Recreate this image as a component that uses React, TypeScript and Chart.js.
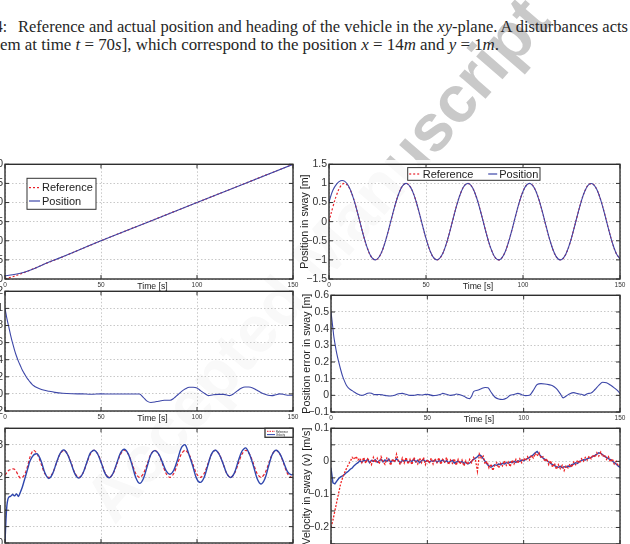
import React, { useEffect, useLayoutEffect, useRef } from 'react';
import { Chart, registerables } from 'chart.js';

Chart.register(...registerables);

const FONT = '"Liberation Sans", Arial, Helvetica, sans-serif';
const SERIF = '"Liberation Serif", "Times New Roman", serif';
const RED = '#e8202a';
const BLUE = '#3d47a8';
const BLUE2 = '#2f46ad';

// ---------------- Data ----------------
// Top-left: position in surge [m]
const tlTime = [0, 4, 8, 12, 16, 20, 30, 40, 50, 75, 100, 125, 150];
const tlRef = [0, 0.6, 1.3, 2.1, 2.9, 3.8, 5.8, 7.9, 10, 15, 20, 25, 30];
const tlPos = [0.85, 1.1, 1.5, 2.1, 2.9, 3.8, 5.8, 7.9, 10, 15, 20, 25, 30];

// Top-right: position in sway [m], sampled every 2 s
const trTime = [0, 2, 4, 6, 8, 10, 12, 14, 16, 18, 20, 22, 24, 26, 28, 30, 32, 34, 36, 38, 40, 42, 44, 46, 48, 50, 52, 54, 56, 58, 60, 62, 64, 66, 68, 70, 72, 74, 76, 78, 80, 82, 84, 86, 88, 90, 92, 94, 96, 98, 100, 102, 104, 106, 108, 110, 112, 114, 116, 118, 120, 122, 124, 126, 128, 130, 132, 134, 136, 138, 140, 142, 144, 146, 148, 150];
const trRef = [0, 0.385, 0.711, 0.927, 1.0, 0.919, 0.697, 0.367, -0.02, -0.403, -0.724, -0.934, -1.0, -0.911, -0.682, -0.348, 0.039, 0.421, 0.738, 0.941, 0.999, 0.903, 0.668, 0.33, -0.059, -0.439, -0.751, -0.947, -0.998, -0.894, -0.653, -0.311, 0.079, 0.457, 0.764, 0.953, 0.996, 0.885, 0.637, 0.292, -0.099, -0.474, -0.776, -0.959, -0.994, -0.876, -0.622, -0.273, 0.118, 0.491, 0.789, 0.965, 0.992, 0.866, 0.607, 0.254, -0.138, -0.509, -0.801, -0.97, -0.989, -0.856, -0.591, -0.235, 0.157, 0.526, 0.813, 0.974, 0.986, 0.846, 0.575, 0.216, -0.177, -0.542, -0.824, -0.979];
const trPos = [0.52, 0.82, 0.99, 1.07, 1.06, 0.94, 0.7, 0.367, -0.02, -0.403, -0.724, -0.934, -1.0, -0.911, -0.682, -0.348, 0.039, 0.421, 0.738, 0.941, 0.999, 0.903, 0.668, 0.33, -0.059, -0.439, -0.751, -0.947, -0.998, -0.894, -0.653, -0.311, 0.079, 0.457, 0.764, 0.953, 0.996, 0.885, 0.637, 0.292, -0.099, -0.474, -0.776, -0.959, -0.994, -0.876, -0.622, -0.273, 0.118, 0.491, 0.789, 0.965, 0.992, 0.866, 0.607, 0.254, -0.138, -0.509, -0.801, -0.97, -0.989, -0.856, -0.591, -0.235, 0.157, 0.526, 0.813, 0.974, 0.986, 0.846, 0.575, 0.216, -0.177, -0.542, -0.824, -0.979];

// Middle-left: position error in surge [m]
const mlTime = [0, 1, 2, 3, 4, 5, 6, 7, 8, 9, 10, 11, 12, 13, 14, 15, 16, 18, 20, 23, 26, 30, 35, 40, 45, 50, 55, 60, 65, 70, 72, 74, 76, 78, 80, 83, 86, 88, 90, 92, 94, 96, 98, 100, 102, 104, 106, 108, 111, 114, 117, 119, 121, 123, 125, 127, 129, 131, 133, 135, 137, 139, 141, 143, 145, 147, 150];
const mlErr = [1.0, 0.88, 0.78, 0.68, 0.59, 0.51, 0.44, 0.38, 0.33, 0.28, 0.24, 0.2, 0.17, 0.14, 0.115, 0.095, 0.08, 0.06, 0.045, 0.03, 0.018, 0.008, 0.002, 0.0, -0.004, 0.0, -0.002, -0.002, -0.002, -0.002, -0.04, -0.085, -0.1, -0.095, -0.085, -0.075, -0.075, -0.05, -0.01, 0.03, 0.06, 0.078, 0.078, 0.068, 0.035, 0.005, -0.02, -0.012, -0.005, -0.005, -0.02, 0.0, 0.035, 0.065, 0.08, 0.08, 0.07, 0.045, 0.02, 0.0, -0.015, -0.02, -0.01, 0.0, -0.005, -0.015, -0.015];

// Middle-right: position error in sway [m]
const mrTime = [0, 0.5, 1, 1.5, 2.2, 3, 4, 5, 6, 7, 8, 9, 10, 11, 12, 13, 14, 15, 16, 17, 18, 19, 20, 21, 22, 23, 25, 27, 29, 31, 33, 35, 37, 39, 41, 43, 45, 47, 49, 51, 53, 55, 57, 58, 60, 62, 64, 65, 67, 69, 71, 72, 73, 74, 76, 78, 80, 81.5, 83, 85, 87, 89, 91, 93, 95, 97, 99, 101, 103, 105, 107, 109, 111, 113, 115, 117, 119, 120.5, 122, 124, 126, 128, 130, 131.5, 133, 135, 137, 139, 141, 143, 145, 147, 149, 150];
const mrErr = [0.5, 0.45, 0.4, 0.35, 0.3, 0.25, 0.2, 0.155, 0.115, 0.085, 0.06, 0.045, 0.035, 0.028, 0.02, 0.013, 0.006, 0.002, 0.0, 0.002, 0.007, 0.012, 0.014, 0.012, 0.006, 0.004, 0.005, 0.002, -0.003, -0.004, 0.0, 0.01, 0.012, 0.006, 0.0, 0.0, 0.004, 0.002, 0.006, 0.004, -0.002, 0.0, 0.006, 0.012, 0.006, 0.0, 0.003, 0.008, 0.003, -0.005, -0.018, -0.02, -0.005, 0.022, 0.03, 0.04, 0.047, 0.045, 0.02, -0.01, -0.022, -0.025, -0.018, 0.0, 0.005, 0.012, 0.004, -0.002, 0.0, 0.03, 0.065, 0.07, 0.068, 0.064, 0.058, 0.04, 0.01, -0.015, -0.005, 0.01, 0.016, 0.01, 0.006, 0.0, 0.01, 0.014, 0.035, 0.06, 0.078, 0.075, 0.062, 0.045, 0.025, 0.01];

// Bottom-left: velocity in surge [m/s]
const blRefTime = [0, 1, 2, 3, 4, 5, 6, 7, 8, 9, 10, 11, 12, 13, 14.8, 16.8, 18.8, 20.7, 22.7, 24.7, 26.7, 28.6, 30.6, 32.6, 34.6, 36.5, 38.5, 40.5, 42.5, 44.4, 46.4, 48.4, 50.4, 52.3, 54.3, 56.3, 58.3, 60.2, 62.2, 64.2, 66.2, 68.1, 70.1, 72.1, 74.1, 76.0, 78.0, 80.0, 82.0, 83.9, 85.9, 87.9, 89.9, 91.8, 93.8, 95.8, 97.8, 99.7, 101.7, 103.7, 105.7, 107.6, 109.6, 111.6, 113.6, 115.5, 117.5, 119.5, 121.5, 123.4, 125.4, 127.4, 129.4, 131.3, 133.3, 135.3, 137.3, 139.2, 141.2, 143.2, 145.2, 147.1, 149.1, 150];
const blRef = [0.207, 0.215, 0.222, 0.224, 0.226, 0.225, 0.217, 0.205, 0.198, 0.2, 0.207, 0.22, 0.24, 0.262, 0.283, 0.271, 0.242, 0.212, 0.2, 0.212, 0.242, 0.271, 0.283, 0.271, 0.242, 0.212, 0.2, 0.212, 0.242, 0.271, 0.283, 0.271, 0.242, 0.212, 0.2, 0.212, 0.242, 0.271, 0.283, 0.271, 0.242, 0.212, 0.2, 0.212, 0.242, 0.271, 0.283, 0.271, 0.242, 0.212, 0.2, 0.212, 0.242, 0.271, 0.283, 0.271, 0.242, 0.212, 0.2, 0.212, 0.242, 0.271, 0.283, 0.271, 0.242, 0.212, 0.2, 0.212, 0.242, 0.271, 0.283, 0.271, 0.242, 0.212, 0.2, 0.212, 0.242, 0.271, 0.283, 0.271, 0.242, 0.212, 0.2, 0.203];
const blVelTime = [0, 0.5, 1, 1.5, 2, 3, 4, 5, 6, 7, 8, 9, 10, 11, 12, 13, 14.8, 16.8, 18.8, 20.7, 22.7, 24.7, 26.7, 28.6, 30.6, 32.6, 34.6, 36.5, 38.5, 40.5, 42.5, 44.4, 46.4, 48.4, 50.4, 52.3, 54.3, 56.3, 58.3, 60.2, 62.2, 64.2, 66.2, 68.1, 70.1, 72.1, 74.1, 76.0, 78.0, 80.0, 82.0, 83.9, 85.9, 87.9, 89.9, 91.8, 93.8, 95.8, 97.8, 99.7, 101.7, 103.7, 105.7, 107.6, 109.6, 111.6, 113.6, 115.5, 117.5, 119.5, 121.5, 123.4, 125.4, 127.4, 129.4, 131.3, 133.3, 135.3, 137.3, 139.2, 141.2, 143.2, 145.2, 147.1, 149.1, 150];
const blVel = [0.0, 0.07, 0.115, 0.133, 0.14, 0.143, 0.148, 0.144, 0.15, 0.142, 0.155, 0.17, 0.19, 0.21, 0.23, 0.25, 0.268, 0.272, 0.25, 0.215, 0.197, 0.21, 0.243, 0.272, 0.284, 0.27, 0.24, 0.21, 0.198, 0.212, 0.244, 0.274, 0.283, 0.27, 0.24, 0.21, 0.199, 0.213, 0.245, 0.275, 0.286, 0.272, 0.238, 0.2, 0.182, 0.197, 0.235, 0.27, 0.282, 0.272, 0.246, 0.22, 0.21, 0.222, 0.255, 0.29, 0.3, 0.27, 0.235, 0.198, 0.185, 0.2, 0.238, 0.272, 0.283, 0.27, 0.242, 0.212, 0.2, 0.214, 0.25, 0.28, 0.29, 0.27, 0.235, 0.197, 0.18, 0.195, 0.235, 0.27, 0.283, 0.272, 0.245, 0.218, 0.208, 0.21];

// Bottom-right: velocity in sway (v) [m/s], sampled every second
const brTime = Array.from({ length: 151 }, (_, i) => i);
const brVel = [-0.02, -0.065, -0.068, -0.06, -0.052, -0.047, -0.044, -0.04, -0.034, -0.03, -0.024, -0.02, -0.013, -0.008, -0.004, 0.002, -0.003, 0.004, 0.0, 0.006, -0.004, 0.003, 0.0, 0.005, -0.003, 0.002, 0.006, -0.002, 0.004, 0.0, 0.007, -0.003, 0.003, 0.0, 0.008, 0.002, -0.004, 0.003, 0.0, 0.005, -0.003, 0.002, 0.0, 0.006, -0.002, 0.003, -0.004, 0.002, 0.005, -0.001, 0.003, -0.003, 0.002, 0.0, 0.004, -0.003, 0.002, 0.0, 0.005, -0.002, 0.002, -0.004, 0.0, 0.003, -0.005, -0.002, 0.001, -0.004, 0.0, -0.006, -0.003, -0.008, -0.005, 0.0, 0.006, 0.01, 0.014, 0.02, 0.016, 0.008, 0.0, -0.008, -0.015, -0.018, -0.014, -0.01, -0.012, -0.008, -0.01, -0.006, -0.008, -0.004, -0.006, -0.002, -0.004, 0.0, -0.003, 0.002, 0.0, 0.004, 0.002, 0.006, 0.008, 0.012, 0.016, 0.02, 0.026, 0.03, 0.022, 0.015, 0.01, 0.006, 0.002, -0.002, -0.006, -0.01, -0.013, -0.016, -0.018, -0.015, -0.019, -0.016, -0.018, -0.014, -0.016, -0.01, -0.008, -0.004, -0.006, 0.0, 0.002, 0.005, 0.004, 0.008, 0.01, 0.012, 0.015, 0.018, 0.022, 0.026, 0.024, 0.02, 0.015, 0.012, 0.008, 0.005, 0.002, -0.004, -0.008, -0.014, -0.018];
const brRef = [-0.2, -0.178, -0.15, -0.122, -0.095, -0.068, -0.05, -0.035, -0.022, -0.01, 0.0, 0.012, 0.006, 0.015, 0.004, 0.01, -0.004, 0.012, -0.006, 0.008, 0.002, -0.01, 0.012, -0.004, 0.009, -0.008, 0.014, 0.0, -0.009, 0.01, 0.004, -0.012, 0.008, -0.003, 0.022, 0.0, -0.01, 0.01, -0.005, 0.012, -0.008, 0.006, -0.01, 0.012, 0.0, -0.008, 0.01, -0.004, 0.012, -0.01, 0.006, -0.006, 0.01, -0.008, 0.008, -0.004, 0.011, -0.009, 0.006, -0.002, 0.012, -0.01, 0.004, -0.006, 0.008, -0.012, 0.006, -0.008, 0.004, -0.014, 0.002, -0.01, 0.006, -0.004, 0.012, 0.004, -0.03, 0.022, 0.01, 0.016, -0.008, 0.0, -0.02, -0.008, -0.028, -0.012, -0.004, -0.02, -0.006, -0.014, 0.002, -0.012, -0.002, -0.016, 0.004, -0.008, 0.006, -0.006, 0.008, -0.004, 0.01, 0.002, 0.014, 0.004, 0.018, 0.01, 0.024, 0.016, 0.026, 0.01, 0.014, 0.0, 0.008, -0.01, 0.002, -0.018, -0.006, -0.024, -0.01, -0.022, -0.012, -0.028, -0.014, -0.02, -0.008, -0.018, -0.002, -0.01, 0.004, -0.006, 0.008, 0.0, 0.012, 0.004, 0.016, 0.008, 0.02, 0.012, 0.026, 0.016, 0.028, 0.014, 0.02, 0.006, 0.014, -0.002, 0.008, -0.008, 0.0, -0.014, -0.01];

// ---------------- Layout constants ----------------
const YW = 40; // fixed y-axis width
const PT = 8; // top padding
const PR = 10; // right padding
const XH = 16; // fixed x-axis height

type Series = {
  label: string; xs: number[]; ys: number[]; color: string; width: number;
  dash?: number[]; tension?: number; mono?: boolean;
};
type LegendItem = { label: string; color: string; width: number; dash?: number[]; sx: number; len: number; y: number; tx: number };
type LegendSpec = { x: number; y: number; w: number; h: number; font: number; border: number; items: LegendItem[] };
type PlotSpec = {
  id: string;
  box: [number, number, number, number];
  xRange: [number, number]; xStep: number;
  yRange: [number, number]; yStep: number; yLabelEvery?: number;
  series: Series[];
  xTitle: string; yTitle: string;
  legend?: LegendSpec;
};

const fmt = (v: number) => {
  const r = Math.round(v * 1000) / 1000;
  const s = String(Math.abs(r));
  return r < 0 ? '\u2212' + s : s;
};

const decorPlugin = {
  id: 'decor',
  afterDraw(chart: any, _args: any, opts: any) {
    const { ctx, chartArea: a, scales } = chart;
    const xs = scales.x, ys = scales.y;
    ctx.save();
    ctx.strokeStyle = '#333';
    ctx.lineWidth = 1;
    const seg = (x1: number, y1: number, x2: number, y2: number) => {
      ctx.beginPath(); ctx.moveTo(x1, y1); ctx.lineTo(x2, y2); ctx.stroke();
    };
    xs.ticks.forEach((t: any) => {
      const px = xs.getPixelForValue(t.value);
      seg(px, a.bottom, px, a.bottom - 4);
      seg(px, a.top, px, a.top + 4);
    });
    ys.ticks.forEach((t: any) => {
      const py = ys.getPixelForValue(t.value);
      seg(a.left, py, a.left + 4, py);
      seg(a.right, py, a.right - 4, py);
    });
    ctx.lineWidth = 1.4;
    ctx.strokeStyle = '#2e2e2e';
    ctx.strokeRect(a.left, a.top, a.right - a.left, a.bottom - a.top);
    ctx.fillStyle = '#222';
    ctx.textAlign = 'center';
    ctx.textBaseline = 'middle';
    ctx.font = `8.7px ${FONT}`;
    ctx.fillText(opts.xTitle, (a.left + a.right) / 2 + 3.5, a.bottom + 7.5);
    ctx.save();
    ctx.translate(a.left - 23.5, (a.top + a.bottom) / 2);
    ctx.rotate(-Math.PI / 2);
    ctx.font = `10.7px ${FONT}`;
    ctx.fillText(opts.yTitle, 0, 0);
    ctx.restore();
    const L = opts.legend as LegendSpec | undefined;
    if (L) {
      const bx = a.left + L.x, by = a.top + L.y;
      ctx.fillStyle = '#fff';
      ctx.fillRect(bx, by, L.w, L.h);
      ctx.strokeStyle = '#333';
      ctx.lineWidth = L.border;
      ctx.strokeRect(bx, by, L.w, L.h);
      ctx.font = `${L.font}px ${FONT}`;
      ctx.textAlign = 'left';
      ctx.textBaseline = 'middle';
      L.items.forEach((it) => {
        ctx.save();
        ctx.strokeStyle = it.color;
        ctx.lineWidth = it.width;
        ctx.setLineDash(it.dash || []);
        ctx.beginPath();
        ctx.moveTo(bx + it.sx, by + it.y);
        ctx.lineTo(bx + it.sx + it.len, by + it.y);
        ctx.stroke();
        ctx.restore();
        ctx.fillStyle = '#222';
        ctx.fillText(it.label, bx + it.tx, by + it.y + 0.5);
      });
    }
    ctx.restore();
  },
};

function makeConfig(s: PlotSpec): any {
  const labeled = (v: number) =>
    !s.yLabelEvery || Math.abs(v / s.yLabelEvery - Math.round(v / s.yLabelEvery)) < 1e-6;
  const gridOpts = { color: '#c2c2c2', lineWidth: 0.9, drawTicks: false };
  const borderOpts = { display: false, dash: [1.5, 2] };
  return {
    type: 'line',
    data: {
      datasets: s.series.map((se) => ({
        label: se.label,
        data: se.xs.map((x, i) => ({ x, y: se.ys[i] })),
        borderColor: se.color,
        borderWidth: se.width,
        borderDash: se.dash || [],
        pointRadius: 0,
        fill: false,
        tension: se.tension ?? 0,
        cubicInterpolationMode: se.mono ? 'monotone' : 'default',
      })),
    },
    options: {
      responsive: false,
      animation: false,
      devicePixelRatio: 1,
      layout: { padding: { top: PT, right: PR, bottom: 0, left: 0 } },
      plugins: {
        legend: { display: false },
        tooltip: { enabled: false },
        decor: { xTitle: s.xTitle, yTitle: s.yTitle, legend: s.legend },
      },
      scales: {
        x: {
          type: 'linear',
          min: s.xRange[0],
          max: s.xRange[1],
          afterFit: (sc: any) => { sc.height = XH; },
          ticks: {
            stepSize: s.xStep,
            autoSkip: false,
            maxRotation: 0,
            padding: 2,
            color: '#333',
            font: { family: FONT, size: 6.5 },
            callback: (v: any) => fmt(Number(v)),
          },
          grid: gridOpts,
          border: borderOpts,
        },
        y: {
          type: 'linear',
          min: s.yRange[0],
          max: s.yRange[1],
          afterFit: (sc: any) => { sc.width = YW; },
          ticks: {
            stepSize: s.yStep,
            autoSkip: false,
            padding: 2,
            color: '#333',
            font: { family: FONT, size: 10.5 },
            callback: (v: any) => (labeled(Number(v)) ? fmt(Number(v)) : ''),
          },
          grid: gridOpts,
          border: borderOpts,
        },
      },
    },
    plugins: [decorPlugin],
  };
}

const PLOTS: PlotSpec[] = [
  {
    id: 'tl', box: [5, 164, 293, 279],
    xRange: [0, 150], xStep: 50, yRange: [0, 30], yStep: 5,
    xTitle: 'Time [s]', yTitle: 'Position in surge [m]',
    series: [
      { label: 'Position', xs: tlTime, ys: tlPos, color: BLUE, width: 1.1, mono: true },
      { label: 'Reference', xs: tlTime, ys: tlRef, color: RED, width: 1.2, dash: [2, 2], mono: true },
    ],
    legend: {
      x: 22, y: 14, w: 69, h: 31, font: 11, border: 1,
      items: [
        { label: 'Reference', color: RED, width: 1.2, dash: [2, 2], sx: 2, len: 11, y: 9.3, tx: 15 },
        { label: 'Position', color: BLUE, width: 1.2, sx: 2, len: 11, y: 22.7, tx: 15 },
      ],
    },
  },
  {
    id: 'tr', box: [329, 164, 620, 279],
    xRange: [0, 150], xStep: 50, yRange: [-1.5, 1.5], yStep: 0.5,
    xTitle: 'Time [s]', yTitle: 'Position in sway [m]',
    series: [
      { label: 'Position', xs: trTime, ys: trPos, color: BLUE, width: 1.1, tension: 0.4 },
      { label: 'Reference', xs: trTime, ys: trRef, color: RED, width: 1.2, dash: [2, 2], tension: 0.4 },
    ],
    legend: {
      x: 78.7, y: 3.3, w: 132.3, h: 12.7, font: 11, border: 1,
      items: [
        { label: 'Reference', color: RED, width: 1.2, dash: [2, 2], sx: 1.5, len: 11, y: 6.4, tx: 15 },
        { label: 'Position', color: BLUE, width: 1.2, sx: 80.5, len: 9, y: 6.4, tx: 91.5 },
      ],
    },
  },
  {
    id: 'ml', box: [5, 291, 293, 411],
    xRange: [0, 150], xStep: 50, yRange: [-0.2, 1.2], yStep: 0.2,
    xTitle: 'Time [s]', yTitle: 'Position error in surge [m]',
    series: [{ label: 'Error', xs: mlTime, ys: mlErr, color: BLUE, width: 1.1, mono: true }],
  },
  {
    id: 'mr', box: [331, 295, 620, 412],
    xRange: [0, 150], xStep: 50, yRange: [-0.1, 0.6], yStep: 0.1,
    xTitle: 'Time [s]', yTitle: 'Position error in sway [m]',
    series: [{ label: 'Error', xs: mrTime, ys: mrErr, color: BLUE, width: 1.1, mono: true }],
  },
  {
    id: 'bl', box: [5, 428, 293, 543],
    xRange: [0, 150], xStep: 50, yRange: [0, 0.35], yStep: 0.05, yLabelEvery: 0.1,
    xTitle: 'Time [s]', yTitle: 'Velocity in surge (u) [m/s]',
    series: [
      { label: 'Velocity', xs: blVelTime, ys: blVel, color: BLUE2, width: 1.4, tension: 0.3 },
      { label: 'Reference', xs: blRefTime, ys: blRef, color: RED, width: 1.2, dash: [3, 2], tension: 0.3 },
    ],
    legend: {
      x: 260, y: 0, w: 28, h: 9, font: 2.6, border: 1.3,
      items: [
        { label: 'Reference', color: RED, width: 1, dash: [1.5, 1], sx: 2, len: 8, y: 3, tx: 11 },
        { label: 'Velocity', color: BLUE2, width: 1, sx: 2, len: 8, y: 6.3, tx: 11 },
      ],
    },
  },
  {
    id: 'br', box: [331, 428, 620, 544],
    xRange: [0, 150], xStep: 50, yRange: [-0.25, 0.1], yStep: 0.05, yLabelEvery: 0.1,
    xTitle: 'Time [s]', yTitle: 'Velocity in sway (v) [m/s]',
    series: [
      { label: 'Reference', xs: brTime, ys: brRef, color: '#f02424', width: 1.3, dash: [2, 1.5] },
      { label: 'Velocity', xs: brTime, ys: brVel, color: BLUE2, width: 1.4 },
    ],
  },
];

function Plot({ spec }: { spec: PlotSpec }) {
  const ref = useRef<HTMLCanvasElement>(null);
  const [L, T, R, B] = spec.box;
  const cw = YW + (R - L) + PR;
  const ch = PT + (B - T) + XH;
  useEffect(() => {
    const c = ref.current;
    if (!c) return;
    const chart = new Chart(c, makeConfig(spec));
    return () => chart.destroy();
  }, [spec]);
  return (
    <canvas
      ref={ref}
      width={cw}
      height={ch}
      style={{ position: 'absolute', left: L - YW, top: T - PT, width: cw, height: ch, zIndex: 3 }}
    />
  );
}

function FitLine({ left, top, width, children }: { left: number; top: number; width: number; children: React.ReactNode }) {
  const ref = useRef<HTMLSpanElement>(null);
  useLayoutEffect(() => {
    const el = ref.current;
    if (!el) return;
    el.style.transform = 'none';
    const w = el.getBoundingClientRect().width;
    if (w > 0) el.style.transform = `scaleX(${width / w})`;
  }, [width]);
  return (
    <span
      ref={ref}
      style={{
        position: 'absolute', left, top, fontFamily: SERIF, fontSize: 16, lineHeight: '16px',
        whiteSpace: 'nowrap', transformOrigin: '0 0', color: '#262626', zIndex: 3,
      }}
    >
      {children}
    </span>
  );
}

function Watermark() {
  const txt: React.CSSProperties = {
    position: 'absolute', top: -56, whiteSpace: 'nowrap', fontFamily: FONT, fontWeight: 'bold',
    fontSize: 66, lineHeight: '66px', color: '#c9c9c9',
  };
  return (
    <div style={{ position: 'absolute', left: 408, top: 188, width: 0, height: 0, transform: 'rotate(-49deg)', transformOrigin: '0 0', zIndex: 1 }}>
      <span style={{ ...txt, right: 0 }}>Accepted Man</span>
      <span style={{ ...txt, left: 0 }}>uscript</span>
    </div>
  );
}

export default function App() {
  return (
    <div style={{ position: 'absolute', left: 0, top: 0, width: 630, height: 544, overflow: 'hidden', background: '#fff' }}>
      <Watermark />
      <div style={{ position: 'absolute', left: 0, top: 160, width: 630, height: 384, background: 'rgba(255,255,255,0.88)', zIndex: 2 }} />
      <FitLine left={-5} top={18.6} width={12}>4:</FitLine>
      <FitLine left={18} top={18.6} width={610}>
        Reference and actual position and heading of the vehicle in the <i>xy</i>-plane. A disturbances acts
      </FitLine>
      <FitLine left={0} top={36.6} width={499}>
        em at time <i>t</i> = 70<i>s</i>], which correspond to the position <i>x</i> = 14<i>m</i> and <i>y</i> = 1<i>m</i>.
      </FitLine>
      {PLOTS.map((p) => (
        <Plot key={p.id} spec={p} />
      ))}
    </div>
  );
}
